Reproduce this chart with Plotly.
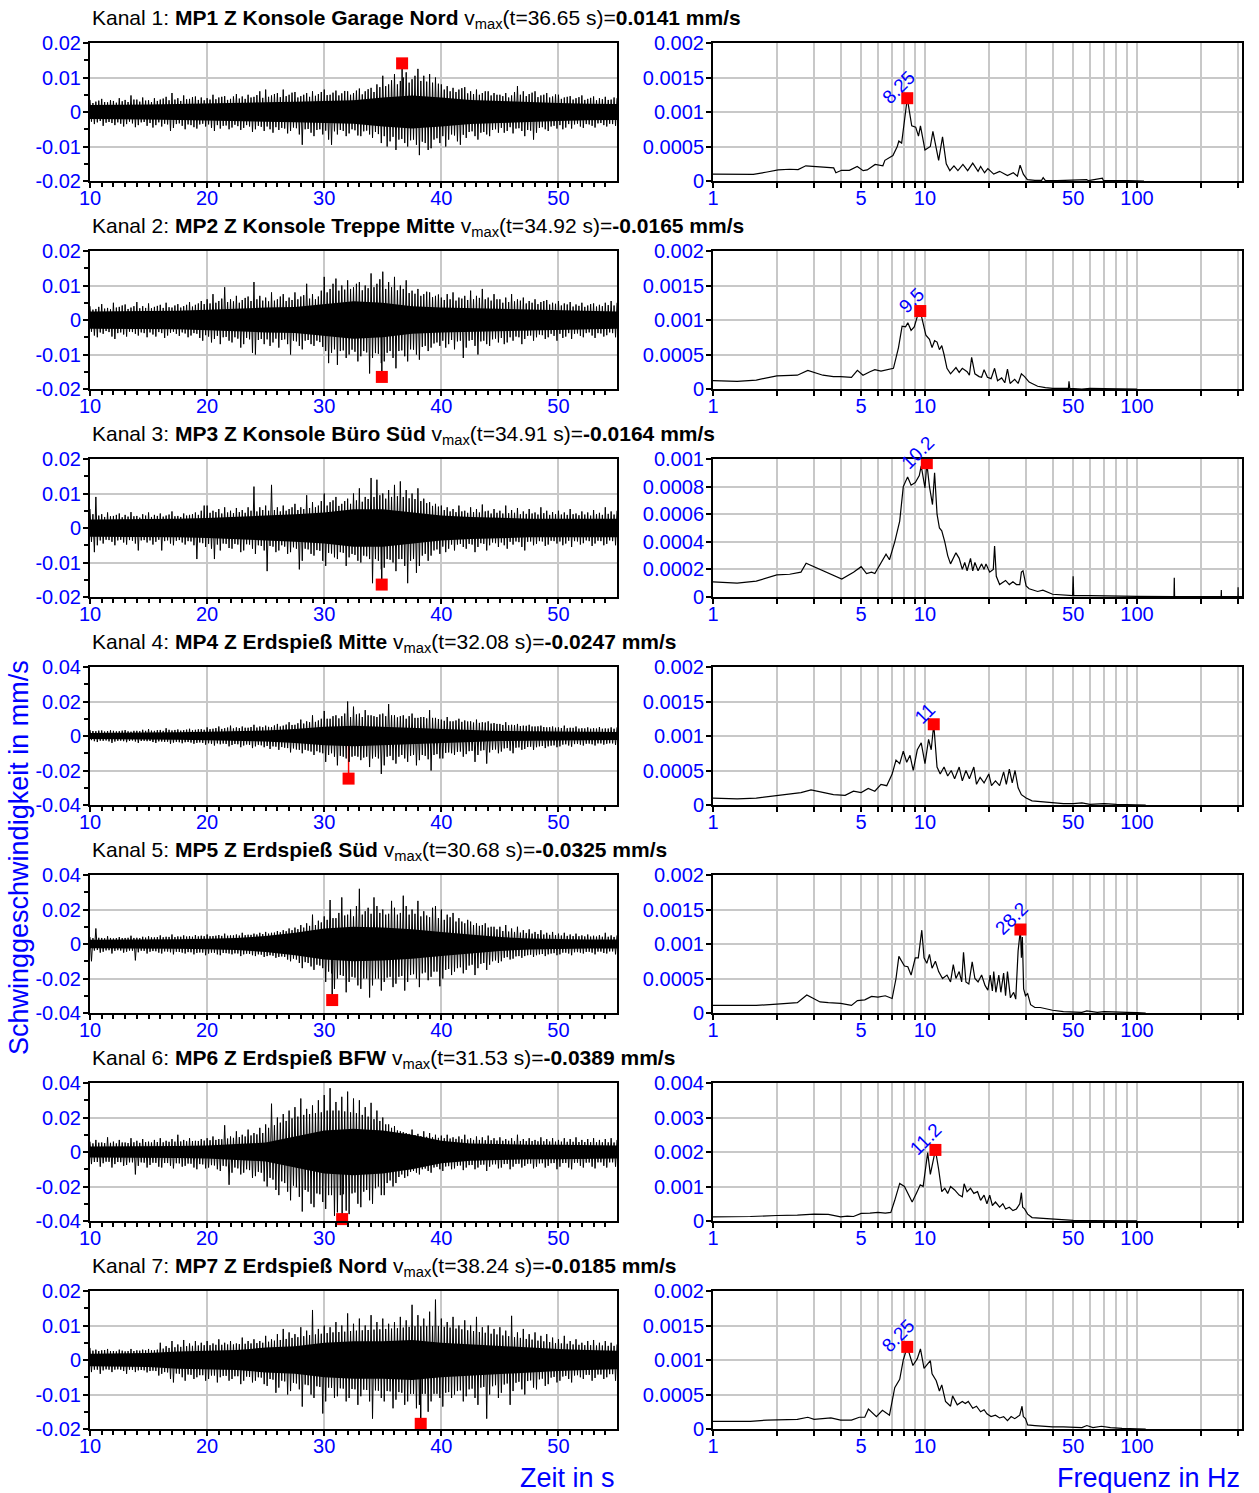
import numpy as np
import plotly.graph_objects as go

# ---------------------------------------------------------------------------
# Channel metadata
# ---------------------------------------------------------------------------
channel_names = [
    "MP1 Z Konsole Garage Nord",
    "MP2 Z Konsole Treppe Mitte",
    "MP3 Z Konsole Büro Süd",
    "MP4 Z Erdspieß Mitte",
    "MP5 Z Erdspieß Süd",
    "MP6 Z Erdspieß BFW",
    "MP7 Z Erdspieß Nord",
]
t_vmax = [36.65, 34.92, 34.91, 32.08, 30.68, 31.53, 38.24]               # s
v_vmax = [0.0141, -0.0165, -0.0164, -0.0247, -0.0325, -0.0389, -0.0185]  # mm/s
time_ylim = [0.02, 0.02, 0.02, 0.04, 0.04, 0.04, 0.02]                   # mm/s
spec_ylim = [0.002, 0.002, 0.001, 0.002, 0.002, 0.004, 0.002]            # mm/s
peak_freq = [8.25, 9.5, 10.2, 11, 28.2, 11.2, 8.25]                      # Hz
peak_amp = [1.20, 1.13, 0.97, 1.17, 1.21, 2.06, 1.19]                    # µm/s

# ---------------------------------------------------------------------------
# Velocity records (µm/s).
#   hi*  : positive peaks, every 0.25 s starting at 10.0 s
#   lo*  : negative peaks, every 0.25 s starting at 10.125 s
#   core*: half-width of the dense centre band, every 2.5 s from 10 s
# ---------------------------------------------------------------------------
hi1 = [3.5, 2.6, 3.0, 3.3, 3.8, 2.9, 2.8, 3.4, 3.2, 2.7, 4.0, 3.1, 3.5, 2.9, 4.8, 3.6, 3.6, 3.0, 4.2, 3.3,
       3.4, 2.9, 4.0, 3.2, 3.6, 3.9, 4.4, 3.4, 5.5, 3.6, 4.0, 3.2, 4.8, 3.7, 3.8, 4.3, 4.5, 3.5, 4.2, 3.4,
       4.0, 3.6, 5.0, 3.7, 4.2, 4.4, 4.6, 3.5, 3.8, 4.5, 5.2, 3.9, 4.5, 3.8, 5.0, 4.2, 4.4, 4.9, 6.0, 4.1,
       6.5, 4.4, 4.8, 5.2, 5.5, 4.3, 6.5, 4.6, 5.0, 5.6, 5.8, 4.2, 4.6, 5.0, 5.5, 4.4, 6.0, 4.7, 5.2, 5.8,
       6.5, 4.9, 5.0, 5.6, 6.2, 4.8, 5.4, 6.1, 6.0, 5.0, 5.5, 6.2, 6.8, 5.1, 6.0, 6.6, 7.0, 5.8, 8.0, 7.2,
       10.5, 7.5, 8.0, 9.2, 11.0, 8.0, 9.0, 10.0, 11.5, 8.5, 9.5, 10.5, 12.5, 9.0, 10.5, 8.8, 11.0, 8.5, 10.0, 8.2,
       8.0, 6.5, 7.5, 6.0, 7.0, 5.8, 6.5, 6.9, 7.2, 5.4, 6.0, 5.2, 6.5, 5.0, 5.5, 6.0, 6.0, 4.8, 5.5, 5.0,
       5.0, 4.6, 5.5, 4.2, 4.8, 5.8, 7.5, 5.0, 6.0, 4.6, 5.2, 5.6, 6.0, 4.3, 4.8, 5.0, 5.5, 4.2, 4.5, 5.1,
       5.0, 3.8, 4.2, 4.4, 4.6, 3.6, 4.0, 4.3, 4.8, 3.5, 3.8, 4.1, 4.5, 3.4, 4.0, 3.7, 4.4, 3.5, 3.6, 4.2,
       4.0]
lo1 = [-2.8, -3.5, -3.0, -2.6, -4.0, -3.1, -2.9, -3.2, -3.8, -3.0, -3.4, -4.2, -3.5, -2.8, -3.3, -4.4, -3.8, -3.0, -2.9, -4.0,
       -3.2, -4.5, -3.8, -3.0, -4.2, -3.4, -3.6, -5.5, -4.6, -3.5, -3.3, -4.0, -5.0, -3.6, -3.8, -4.4, -4.8, -3.6, -3.4, -4.2,
       -3.6, -4.6, -5.5, -3.8, -4.8, -4.0, -3.9, -5.0, -4.5, -3.7, -4.1, -5.2, -4.6, -3.8, -4.2, -5.8, -5.0, -4.0, -4.3, -5.5,
       -4.2, -5.0, -6.0, -4.4, -5.2, -4.6, -4.8, -6.2, -5.5, -4.5, -4.7, -6.5, -9.5, -5.0, -4.9, -6.0, -7.0, -5.2, -5.0, -6.5,
       -5.4, -8.0, -9.5, -5.6, -6.5, -5.2, -5.5, -7.0, -6.2, -5.0, -5.3, -6.8, -7.0, -5.6, -5.4, -6.5, -7.5, -5.8, -6.4, -9.0,
       -7.0, -10.0, -8.5, -7.2, -11.0, -8.0, -7.8, -9.0, -10.0, -8.2, -8.0, -9.5, -12.5, -8.6, -9.0, -11.0, -10.5, -8.0, -7.6, -9.0,
       -7.0, -10.0, -8.0, -6.5, -6.8, -8.5, -9.5, -6.6, -7.5, -5.8, -5.6, -7.0, -8.0, -6.0, -5.8, -6.5, -7.0, -5.2, -5.0, -6.0,
       -4.6, -6.0, -5.5, -4.4, -6.2, -4.8, -4.7, -5.5, -7.0, -5.2, -5.4, -8.0, -6.0, -4.6, -4.4, -5.0, -5.5, -4.2, -4.0, -4.8,
       -3.8, -5.0, -4.5, -3.5, -4.8, -3.6, -3.4, -4.2, -4.6, -3.5, -3.6, -4.0, -4.5, -3.3, -3.2, -3.8, -4.2, -3.4, -3.5, -4.0]
core1 = [2.0, 2.0, 2.2, 2.3, 2.4, 2.6, 2.8, 3.0, 3.2, 3.4, 4.2, 4.8, 4.2, 3.5, 3.2, 2.8, 2.6, 2.4, 2.3]

hi2 = [4.0, 3.0, 3.2, 3.8, 4.6, 3.3, 3.5, 3.1, 5.0, 3.6, 3.8, 4.2, 4.5, 3.2, 3.6, 4.0, 5.2, 3.4, 4.0, 3.5,
       4.8, 3.4, 3.8, 4.1, 4.4, 3.5, 5.0, 3.7, 3.6, 4.2, 4.6, 3.6, 4.0, 4.4, 5.2, 3.9, 4.4, 4.8, 5.5, 4.6,
       6.0, 4.8, 7.5, 5.0, 5.5, 6.2, 9.5, 5.2, 6.0, 5.4, 7.0, 5.0, 5.8, 6.4, 6.8, 5.5, 11.0, 6.0, 7.0, 5.6,
       6.5, 5.4, 8.0, 5.6, 6.0, 6.8, 7.5, 5.5, 6.5, 5.8, 8.0, 6.0, 6.8, 7.2, 10.5, 6.2, 7.5, 6.0, 6.8, 8.5,
       12.5, 8.0, 9.0, 10.5, 12.0, 8.5, 10.0, 8.8, 11.5, 9.0, 9.5, 10.5, 11.0, 8.6, 10.0, 9.2, 13.5, 9.5, 10.5, 11.8,
       14.0, 9.0, 11.0, 9.5, 12.5, 8.6, 10.0, 9.0, 11.5, 7.8, 8.5, 7.6, 9.0, 7.0, 7.5, 8.2, 8.0, 6.6, 7.0, 7.4,
       6.5, 5.8, 7.5, 6.0, 8.0, 5.6, 6.5, 6.2, 7.0, 5.8, 8.5, 6.0, 7.0, 6.4, 9.0, 6.0, 6.5, 5.6, 7.5, 6.0,
       6.0, 5.0, 6.5, 5.2, 7.5, 5.4, 6.0, 5.6, 6.5, 4.8, 5.5, 5.0, 6.0, 4.6, 5.2, 5.5, 5.8, 4.5, 5.0, 4.7,
       5.5, 4.2, 4.8, 4.5, 5.2, 3.9, 4.5, 4.1, 5.0, 3.8, 4.2, 4.6, 4.8, 3.9, 4.4, 4.0, 5.0, 4.3, 5.5, 4.2,
       5.0]
lo2 = [-3.4, -4.5, -5.0, -3.6, -4.0, -3.2, -3.5, -4.8, -5.5, -3.8, -3.6, -4.2, -4.8, -3.4, -3.5, -4.0, -4.5, -3.6, -3.8, -5.0,
       -3.6, -4.2, -4.8, -3.5, -3.8, -5.2, -4.5, -3.7, -3.4, -4.0, -4.6, -3.6, -3.9, -5.0, -4.5, -3.8, -4.0, -5.2, -6.0, -4.4,
       -4.8, -6.5, -5.5, -4.6, -7.0, -5.0, -4.9, -6.0, -6.5, -5.0, -5.4, -8.0, -7.0, -5.2, -5.6, -9.5, -10.0, -5.8, -5.5, -7.0,
       -5.6, -7.5, -6.5, -5.4, -8.0, -5.8, -5.6, -7.0, -10.0, -6.0, -6.2, -7.5, -8.5, -6.0, -5.8, -7.0, -7.5, -6.0, -6.4, -7.8,
       -9.0, -12.5, -9.5, -8.5, -13.0, -9.0, -8.8, -11.0, -10.0, -8.6, -9.2, -12.0, -10.5, -9.0, -9.4, -15.5, -11.0, -9.6, -9.8, -12.5,
       -12.0, -9.5, -9.0, -11.0, -14.0, -9.0, -8.8, -10.5, -12.0, -8.5, -8.6, -10.0, -11.5, -7.8, -7.5, -9.0, -8.0, -6.8, -6.5, -7.5,
       -6.0, -8.0, -7.0, -5.8, -8.5, -6.2, -6.0, -11.0, -8.0, -6.0, -5.8, -7.5, -10.0, -6.2, -6.0, -7.0, -7.5, -5.6, -5.4, -6.5,
       -5.2, -7.0, -6.5, -5.0, -6.0, -4.8, -5.0, -7.0, -5.5, -4.6, -4.5, -6.0, -5.0, -4.2, -4.4, -5.5, -5.0, -4.0, -4.6, -6.0,
       -4.0, -5.2, -4.8, -3.8, -5.5, -4.0, -3.9, -4.6, -5.0, -3.8, -3.6, -4.5, -5.2, -3.8, -3.9, -4.8, -4.4, -3.6, -3.8, -5.0]
core2 = [2.5, 2.5, 2.7, 2.7, 3.0, 3.4, 3.6, 3.8, 4.5, 5.4, 5.0, 4.0, 3.6, 3.4, 3.2, 2.9, 2.7, 2.5, 2.5]

hi3 = [5.5, 4.0, 9.0, 3.6, 4.0, 3.2, 4.5, 3.4, 3.5, 3.8, 4.2, 3.1, 3.8, 3.3, 4.6, 3.4, 3.5, 3.0, 4.0, 3.6,
       4.5, 3.2, 3.8, 3.5, 4.2, 3.3, 3.6, 3.9, 4.8, 3.4, 3.5, 3.2, 4.2, 3.6, 3.8, 4.0, 4.5, 3.8, 5.0, 6.5,
       6.5, 4.4, 5.0, 4.6, 5.5, 4.2, 6.0, 4.5, 5.0, 4.3, 5.8, 4.6, 5.2, 4.4, 6.0, 5.0, 12.0, 4.8, 6.0, 5.2,
       6.5, 5.0, 12.5, 5.2, 6.0, 4.8, 6.5, 5.0, 5.5, 6.0, 7.0, 5.2, 6.0, 5.5, 9.5, 5.8, 7.5, 6.0, 6.5, 7.8,
       10.0, 6.5, 7.5, 8.0, 9.0, 6.4, 7.0, 7.8, 8.5, 7.0, 10.0, 8.0, 11.5, 7.6, 9.0, 8.4, 14.5, 9.0, 14.0, 9.5,
       10.0, 8.5, 11.0, 9.0, 12.5, 9.2, 13.5, 9.0, 11.0, 8.6, 10.0, 8.4, 11.5, 7.8, 8.5, 7.2, 7.5, 6.4, 7.0, 6.2,
       6.5, 5.2, 6.0, 4.8, 5.5, 4.6, 6.5, 4.8, 5.0, 4.4, 6.0, 4.6, 5.5, 4.5, 6.8, 4.8, 5.0, 4.2, 5.5, 4.4,
       5.0, 4.2, 6.5, 4.3, 5.2, 4.4, 5.8, 4.0, 4.8, 4.1, 5.5, 4.2, 4.5, 3.9, 6.0, 4.3, 5.0, 3.8, 4.6, 4.0,
       5.0, 3.9, 4.5, 3.8, 5.5, 4.0, 4.2, 3.7, 4.8, 3.9, 4.5, 3.6, 5.2, 4.0, 4.4, 3.8, 6.0, 4.1, 4.8, 3.9,
       5.0]
lo3 = [-4.0, -7.0, -5.0, -3.6, -4.5, -3.4, -3.5, -4.0, -5.0, -3.6, -3.4, -4.2, -4.8, -3.5, -3.7, -4.5, -6.5, -3.6, -3.5, -4.2,
       -3.6, -4.8, -4.0, -3.4, -6.5, -3.8, -3.6, -4.5, -5.0, -3.7, -3.5, -4.2, -4.8, -3.8, -3.9, -5.0, -9.0, -4.2, -4.4, -5.5,
       -4.6, -6.0, -9.0, -4.8, -6.5, -4.5, -4.6, -5.8, -6.0, -4.6, -4.8, -7.0, -6.5, -4.7, -4.8, -6.0, -7.5, -5.0, -5.2, -6.5,
       -12.5, -5.2, -5.4, -7.0, -6.5, -5.0, -5.4, -7.5, -7.0, -5.6, -6.0, -12.0, -9.5, -6.0, -6.2, -7.5, -8.0, -6.4, -6.6, -9.5,
       -11.0, -7.2, -7.4, -8.5, -9.0, -7.0, -7.2, -11.0, -8.5, -7.5, -7.8, -9.5, -10.0, -8.0, -8.2, -9.0, -16.0, -9.0, -9.5, -12.0,
       -11.5, -9.0, -9.2, -10.0, -12.5, -9.0, -9.0, -11.0, -16.0, -9.5, -9.0, -13.0, -11.0, -8.0, -7.5, -9.5, -8.0, -6.5, -6.2, -7.5,
       -5.4, -7.0, -6.0, -4.8, -6.5, -4.8, -4.6, -5.5, -6.0, -4.6, -4.8, -7.0, -5.5, -4.4, -4.6, -6.5, -5.0, -4.2, -4.4, -5.5,
       -4.2, -5.0, -6.0, -4.0, -4.8, -3.9, -4.1, -5.5, -6.5, -4.0, -3.9, -5.0, -4.6, -3.8, -3.9, -5.2, -4.8, -3.7, -3.8, -4.5,
       -3.9, -5.0, -4.5, -3.7, -5.5, -3.8, -3.9, -4.8, -4.4, -3.6, -3.8, -5.2, -4.5, -3.7, -3.8, -5.0, -4.6, -3.6, -3.8, -5.0]
core3 = [2.5, 2.5, 2.5, 2.7, 2.9, 3.2, 3.6, 4.0, 4.5, 5.4, 5.4, 4.5, 3.6, 3.2, 2.9, 2.7, 2.7, 2.7, 2.7]

hi4 = [3.5, 2.9, 2.8, 3.1, 3.2, 2.6, 2.9, 3.3, 3.0, 2.7, 2.8, 3.1, 3.4, 2.7, 2.5, 3.0, 3.0, 2.8, 3.6, 3.0,
       4.0, 3.1, 3.0, 3.4, 3.5, 3.0, 4.5, 3.6, 3.2, 3.5, 3.8, 3.1, 3.4, 3.7, 4.2, 3.3, 3.6, 3.9, 4.0, 3.6,
       5.0, 4.0, 4.2, 4.6, 5.5, 4.1, 4.5, 4.9, 6.0, 4.4, 5.0, 4.6, 5.5, 4.8, 4.8, 5.2, 6.5, 4.9, 5.5, 5.1,
       6.0, 5.3, 5.2, 6.1, 7.0, 5.5, 6.0, 6.6, 8.0, 6.4, 6.5, 7.4, 9.5, 7.2, 8.5, 8.0, 12.0, 8.2, 9.0, 10.0,
       14.5, 10.0, 10.0, 11.5, 12.0, 10.2, 11.5, 13.0, 20.0, 11.0, 17.0, 12.5, 13.0, 11.0, 15.0, 12.0, 12.0, 11.5, 11.0, 12.5,
       13.0, 11.5, 18.5, 12.0, 12.0, 10.8, 11.5, 12.0, 10.0, 11.5, 13.0, 10.5, 10.5, 11.0, 11.0, 10.2, 15.0, 10.5, 10.5, 9.8,
       9.5, 8.8, 11.0, 8.5, 8.5, 9.0, 10.0, 8.2, 9.0, 8.4, 8.5, 7.8, 9.5, 7.6, 8.0, 7.8, 8.5, 7.2, 7.5, 7.0,
       7.0, 6.4, 8.0, 6.2, 6.5, 6.3, 7.0, 5.8, 6.0, 5.9, 6.5, 5.5, 5.5, 5.6, 6.0, 5.2, 5.0, 5.1, 5.5, 4.8,
       5.0, 4.6, 6.0, 4.5, 4.8, 4.7, 5.5, 4.3, 4.5, 4.4, 5.0, 4.2, 4.5, 4.3, 5.2, 4.2, 4.4, 4.3, 5.0, 4.2,
       5.0]
lo4 = [-2.4, -3.0, -3.5, -2.7, -2.8, -2.6, -3.1, -4.0, -3.2, -2.8, -2.7, -3.0, -3.6, -2.9, -2.6, -3.2, -4.0, -2.9, -2.8, -3.0,
       -2.9, -3.5, -4.0, -3.1, -3.2, -3.4, -3.3, -4.5, -3.8, -3.4, -3.6, -4.2, -3.6, -3.5, -3.8, -4.5, -4.0, -3.7, -4.0, -5.0,
       -4.2, -4.5, -5.5, -4.3, -4.8, -4.4, -4.6, -6.0, -5.2, -4.6, -4.8, -6.5, -5.5, -4.9, -5.2, -7.0, -6.0, -5.1, -5.4, -6.5,
       -5.8, -7.5, -6.0, -6.2, -8.0, -6.4, -6.8, -7.0, -9.5, -7.2, -7.8, -8.0, -10.0, -8.0, -8.5, -9.0, -11.0, -8.8, -9.5, -10.0,
       -15.0, -11.0, -10.0, -12.0, -17.0, -11.5, -12.0, -13.0, -15.0, -12.0, -11.5, -12.0, -14.0, -12.5, -12.0, -18.0, -13.0, -12.0, -13.0, -22.0,
       -17.0, -12.0, -11.5, -14.0, -16.0, -12.0, -11.0, -13.0, -15.0, -11.5, -11.0, -17.0, -14.0, -11.0, -11.5, -13.5, -20.0, -11.0, -10.5, -13.0,
       -13.0, -9.8, -9.5, -10.0, -11.0, -9.2, -9.0, -12.0, -10.5, -8.8, -8.6, -15.0, -11.0, -8.5, -8.2, -16.0, -9.5, -8.0, -7.8, -10.0,
       -9.0, -7.2, -7.0, -8.5, -10.0, -6.8, -6.6, -8.0, -7.5, -6.4, -6.2, -8.0, -6.5, -6.0, -5.8, -7.0, -6.0, -5.6, -5.4, -6.5,
       -6.0, -5.0, -4.8, -5.5, -6.2, -4.7, -4.6, -5.0, -5.5, -4.5, -4.4, -4.8, -5.5, -4.3, -4.3, -5.0, -4.5, -4.2, -4.3, -5.2]
core4 = [1.8, 1.8, 2.0, 2.2, 2.4, 2.7, 3.2, 4.0, 5.4, 6.0, 5.4, 5.0, 4.0, 3.4, 2.9, 2.7, 2.5, 2.4, 2.3]

hi5 = [4.0, 3.4, 9.0, 3.6, 3.5, 3.3, 4.5, 3.5, 3.2, 3.4, 4.0, 3.4, 3.5, 3.6, 4.8, 3.5, 3.6, 3.4, 4.2, 3.7,
       4.5, 3.8, 3.8, 4.0, 5.0, 3.9, 4.2, 4.1, 5.5, 4.0, 4.4, 4.2, 5.0, 4.3, 4.6, 4.2, 5.2, 4.4, 4.8, 4.5,
       5.5, 4.5, 4.6, 4.8, 5.2, 4.7, 6.0, 4.8, 5.0, 5.0, 5.5, 4.9, 6.5, 5.1, 5.4, 5.3, 6.0, 5.5, 6.5, 5.8,
       7.0, 6.0, 6.5, 6.6, 7.5, 6.8, 8.0, 7.4, 9.0, 8.0, 9.5, 8.6, 11.0, 9.5, 12.0, 10.5, 17.0, 11.0, 13.5, 12.5,
       16.0, 14.0, 25.5, 15.0, 15.0, 18.0, 27.0, 16.5, 17.0, 20.0, 16.0, 22.0, 32.0, 17.0, 19.0, 21.0, 17.5, 27.0, 22.0, 18.0,
       20.0, 17.0, 17.5, 25.0, 21.0, 17.0, 18.0, 28.0, 22.0, 17.0, 20.0, 17.5, 25.0, 16.0, 19.0, 16.5, 15.5, 21.0, 22.0, 15.0,
       20.0, 14.0, 17.0, 15.5, 18.0, 13.0, 15.0, 13.0, 12.0, 14.0, 13.0, 11.0, 12.0, 10.5, 11.0, 12.0, 9.5, 10.0, 10.0, 8.5,
       10.0, 7.5, 11.0, 7.2, 9.0, 7.0, 10.0, 6.6, 8.0, 6.4, 8.5, 6.0, 7.0, 5.8, 8.0, 5.5, 6.5, 5.3, 7.0, 5.1,
       6.0, 4.9, 6.5, 4.7, 5.5, 4.6, 6.0, 4.5, 5.0, 4.4, 5.5, 4.3, 4.8, 4.3, 5.2, 4.2, 6.5, 4.2, 5.0, 4.1,
       5.0]
lo5 = [-10.0, -3.8, -3.5, -5.0, -4.5, -3.7, -3.6, -5.5, -4.0, -3.6, -3.8, -5.0, -4.5, -3.8, -3.9, -9.5, -4.8, -3.9, -4.0, -5.5,
       -4.5, -4.1, -4.2, -5.0, -5.5, -4.3, -4.4, -4.8, -6.0, -4.5, -4.6, -5.0, -5.5, -4.7, -4.8, -6.0, -5.2, -4.9, -5.0, -6.5,
       -5.5, -5.0, -5.1, -6.0, -6.5, -5.2, -5.3, -5.5, -6.0, -5.4, -5.5, -7.0, -6.0, -5.6, -5.8, -6.5, -7.0, -6.0, -6.2, -7.5,
       -7.0, -6.5, -6.8, -8.0, -7.5, -7.2, -7.5, -9.0, -10.0, -8.5, -9.0, -11.0, -14.0, -10.5, -11.0, -13.0, -15.0, -12.0, -12.5, -14.0,
       -22.0, -16.0, -17.0, -26.0, -20.0, -18.0, -18.5, -28.0, -22.0, -19.0, -19.5, -24.0, -26.0, -20.0, -20.0, -31.0, -24.0, -20.0, -20.0, -27.0,
       -22.0, -19.5, -19.0, -25.0, -23.0, -19.0, -18.5, -27.0, -22.0, -18.0, -17.5, -20.0, -25.0, -17.0, -16.5, -21.0, -19.0, -16.0, -16.0, -24.5,
       -20.0, -15.0, -14.5, -18.0, -16.0, -14.0, -13.5, -17.0, -15.0, -12.5, -12.0, -18.0, -14.0, -11.5, -11.0, -15.0, -12.0, -10.0, -9.5, -11.0,
       -10.0, -8.0, -7.6, -9.0, -8.5, -7.2, -7.0, -8.0, -7.0, -6.5, -6.2, -7.5, -6.5, -6.0, -5.8, -7.0, -6.0, -5.5, -5.3, -6.5,
       -6.0, -5.0, -5.0, -5.5, -6.5, -4.8, -4.7, -5.0, -5.5, -4.6, -4.5, -5.0, -6.0, -4.4, -4.4, -5.2, -5.5, -4.3, -4.3, -6.0]
core5 = [2.4, 2.4, 2.6, 2.8, 3.1, 3.5, 4.6, 6.5, 9.0, 10.0, 9.5, 8.5, 7.0, 5.4, 4.0, 3.2, 2.8, 2.6, 2.6]

hi6 = [6.0, 5.0, 7.0, 5.4, 5.5, 5.2, 8.5, 5.3, 6.0, 5.0, 7.0, 5.5, 5.5, 5.2, 8.0, 5.6, 6.5, 5.3, 7.5, 5.7,
       6.0, 5.5, 7.0, 5.8, 8.0, 5.6, 6.5, 5.9, 7.5, 6.0, 10.0, 6.1, 7.0, 6.2, 8.0, 6.3, 6.5, 6.4, 7.5, 6.6,
       8.0, 6.8, 9.0, 7.0, 7.5, 7.4, 15.5, 7.8, 9.0, 8.2, 12.0, 8.6, 10.0, 9.0, 13.0, 9.6, 11.0, 10.2, 14.0, 11.0,
       16.0, 14.0, 28.0, 15.5, 20.0, 17.0, 22.0, 18.0, 24.0, 19.5, 26.0, 20.5, 31.0, 21.5, 25.0, 22.0, 27.0, 22.5, 30.0, 23.0,
       33.0, 24.0, 37.0, 24.0, 29.0, 24.0, 32.0, 23.5, 35.0, 23.0, 31.0, 22.5, 30.0, 21.5, 26.0, 20.5, 28.5, 19.0, 24.0, 18.0,
       20.0, 16.0, 16.0, 14.0, 15.0, 12.5, 12.0, 11.5, 11.0, 10.5, 13.0, 9.8, 10.5, 9.2, 12.0, 8.8, 11.0, 8.5, 10.0, 8.2,
       9.5, 8.0, 10.0, 7.8, 8.5, 7.6, 9.0, 7.4, 10.0, 7.2, 8.0, 7.0, 9.0, 7.0, 8.5, 6.8, 9.5, 6.8, 8.0, 6.6,
       8.5, 6.5, 7.5, 6.5, 8.0, 6.4, 10.0, 6.4, 7.5, 6.3, 8.0, 6.3, 7.0, 6.2, 8.5, 6.2, 7.5, 6.1, 8.0, 6.0,
       7.0, 6.0, 8.0, 5.9, 7.5, 5.9, 8.5, 5.8, 7.0, 5.8, 7.5, 5.7, 8.0, 5.7, 7.0, 5.6, 7.5, 5.6, 8.0, 5.5,
       7.0]
lo6 = [-7.0, -5.8, -5.8, -8.5, -6.5, -5.6, -5.7, -9.0, -7.0, -5.8, -5.9, -8.0, -7.5, -6.0, -6.0, -13.0, -8.0, -6.0, -6.2, -9.0,
       -7.5, -6.2, -6.3, -8.5, -9.0, -6.4, -6.4, -8.0, -9.5, -6.5, -6.6, -8.5, -8.0, -6.7, -6.8, -9.0, -10.0, -7.0, -7.2, -9.5,
       -9.0, -7.6, -7.8, -10.0, -11.0, -8.0, -8.3, -19.0, -12.0, -9.0, -9.5, -13.0, -12.0, -10.0, -10.5, -15.0, -14.0, -11.5, -12.0, -17.0,
       -20.0, -15.0, -16.0, -22.0, -25.0, -17.0, -18.0, -23.0, -28.0, -19.5, -20.5, -26.0, -34.5, -22.0, -23.0, -30.0, -32.0, -24.0, -24.5, -29.0,
       -33.0, -25.0, -25.0, -37.0, -35.0, -25.0, -24.5, -34.0, -36.0, -24.0, -23.5, -30.0, -32.0, -23.0, -22.0, -28.0, -30.0, -21.0, -20.0, -25.0,
       -25.0, -18.0, -16.5, -20.0, -18.0, -14.5, -13.0, -15.0, -14.0, -11.5, -11.0, -12.0, -13.0, -10.0, -9.6, -11.0, -12.0, -9.0, -8.6, -10.0,
       -11.0, -8.4, -8.2, -10.0, -9.5, -8.0, -7.8, -10.5, -9.0, -7.6, -7.5, -10.0, -9.0, -7.4, -7.3, -11.0, -8.5, -7.2, -7.1, -9.5,
       -9.0, -7.0, -6.9, -10.0, -8.5, -6.9, -6.8, -9.0, -8.0, -6.8, -6.7, -9.5, -8.5, -6.6, -6.5, -9.0, -8.0, -6.5, -6.4, -10.0,
       -8.5, -6.4, -6.3, -9.0, -10.0, -6.3, -6.2, -8.0, -9.0, -6.2, -6.1, -8.5, -9.5, -6.0, -6.0, -8.0, -9.0, -6.0, -6.0, -8.5]
core6 = [3.2, 3.2, 3.2, 3.5, 3.7, 4.5, 5.5, 9.0, 12.5, 13.5, 12.5, 10.0, 6.5, 5.0, 4.5, 4.2, 4.2, 4.0, 3.8]

hi7 = [3.5, 2.7, 3.0, 2.6, 2.8, 2.9, 3.2, 2.6, 2.6, 2.5, 3.0, 2.7, 2.5, 2.6, 3.2, 2.6, 2.8, 2.7, 3.0, 2.8,
       3.2, 2.8, 2.8, 3.0, 5.0, 3.3, 4.0, 3.5, 5.5, 3.7, 4.5, 3.8, 5.8, 4.0, 4.8, 4.1, 5.5, 4.2, 5.0, 4.3,
       5.5, 4.3, 4.8, 4.4, 6.0, 4.4, 5.0, 4.5, 5.5, 4.5, 4.8, 4.6, 6.5, 4.7, 5.5, 4.8, 6.0, 4.9, 5.5, 5.0,
       7.0, 5.3, 6.0, 5.6, 7.5, 5.8, 9.0, 6.1, 8.0, 6.4, 7.5, 6.6, 9.5, 6.9, 8.5, 7.2, 14.5, 7.4, 9.0, 7.6,
       10.0, 7.8, 9.5, 8.0, 11.0, 8.1, 10.0, 8.2, 13.5, 8.4, 10.5, 8.5, 12.0, 8.6, 10.0, 8.7, 13.0, 8.8, 11.0, 8.9,
       12.0, 9.0, 10.5, 9.1, 11.0, 9.2, 12.5, 9.4, 11.5, 9.6, 16.0, 9.8, 13.0, 9.8, 12.0, 9.8, 14.0, 9.8, 17.5, 9.8,
       12.0, 9.6, 11.0, 9.4, 12.5, 9.1, 10.0, 8.9, 11.5, 8.6, 10.0, 8.4, 12.5, 8.1, 9.5, 7.9, 10.0, 7.6, 9.0, 7.4,
       9.5, 7.1, 8.5, 6.9, 12.8, 6.6, 8.0, 6.4, 9.0, 6.1, 7.5, 5.9, 8.0, 5.6, 7.0, 5.4, 7.5, 5.2, 6.5, 4.9,
       6.0, 4.8, 7.0, 4.7, 5.5, 4.5, 6.0, 4.4, 5.0, 4.3, 5.5, 4.3, 5.8, 4.2, 5.0, 4.2, 5.5, 4.1, 5.0, 4.1,
       4.5]
lo7 = [-3.5, -2.8, -2.8, -4.0, -3.0, -2.7, -2.8, -3.5, -2.8, -2.7, -2.8, -3.2, -4.0, -2.8, -2.9, -3.5, -3.0, -2.9, -3.0, -3.6,
       -3.2, -3.1, -3.2, -4.5, -4.0, -3.5, -3.6, -5.5, -6.5, -3.9, -4.0, -5.0, -6.0, -4.2, -4.3, -5.5, -5.0, -4.4, -4.4, -6.0,
       -5.5, -4.5, -4.5, -6.5, -5.0, -4.6, -4.6, -6.0, -5.5, -4.7, -4.7, -7.0, -6.0, -4.8, -4.9, -6.5, -6.0, -5.0, -5.1, -7.0,
       -7.5, -5.5, -5.7, -9.5, -8.0, -6.0, -6.2, -10.0, -9.0, -6.6, -6.8, -8.5, -13.5, -7.1, -7.3, -10.0, -11.0, -7.6, -7.8, -15.5,
       -12.0, -8.0, -8.1, -11.0, -10.5, -8.2, -8.3, -12.0, -11.0, -8.4, -8.5, -13.0, -10.5, -8.6, -8.7, -12.0, -17.0, -8.8, -8.9, -11.0,
       -12.0, -9.0, -9.1, -14.0, -11.5, -9.3, -9.5, -13.0, -12.0, -9.8, -9.8, -14.0, -13.0, -9.8, -9.8, -15.0, -12.0, -9.8, -9.8, -11.0,
       -13.5, -9.5, -9.3, -11.0, -10.0, -9.0, -8.8, -12.0, -10.5, -8.5, -8.3, -11.0, -13.0, -8.0, -7.8, -17.0, -10.0, -7.6, -7.3, -11.0,
       -9.5, -7.1, -6.8, -13.0, -9.0, -6.6, -6.3, -8.5, -10.0, -6.1, -5.9, -8.0, -8.5, -5.6, -5.4, -7.5, -7.0, -5.1, -4.9, -6.5,
       -6.0, -4.8, -4.6, -5.5, -6.5, -4.5, -4.4, -5.0, -5.5, -4.3, -4.3, -6.0, -5.2, -4.2, -4.2, -5.5, -5.0, -4.1, -4.1, -6.0]
core7 = [1.8, 1.8, 2.0, 2.5, 2.7, 2.9, 3.6, 4.0, 5.0, 5.4, 5.4, 5.8, 5.0, 4.5, 4.0, 3.6, 3.2, 2.9, 2.7]

sig_hi = [hi1, hi2, hi3, hi4, hi5, hi6, hi7]
sig_lo = [lo1, lo2, lo3, lo4, lo5, lo6, lo7]
sig_core = [core1, core2, core3, core4, core5, core6, core7]

# ---------------------------------------------------------------------------
# Amplitude spectra: (frequency Hz, amplitude µm/s)
# ---------------------------------------------------------------------------
spec1 = [(1.0, 0.10), (1.25, 0.095), (1.55, 0.095), (1.8, 0.13), (2.03, 0.16), (2.3, 0.17),
         (2.52, 0.165), (2.74, 0.22), (3.0, 0.21), (3.4, 0.19), (3.71, 0.19), (3.8, 0.12),
         (4.04, 0.155), (4.4, 0.155), (4.79, 0.21), (5.11, 0.15), (5.34, 0.16), (5.82, 0.24),
         (6.33, 0.22), (6.47, 0.30), (7.06, 0.37), (7.4, 0.50), (7.53, 0.58), (7.76, 0.55),
         (8.03, 0.95), (8.25, 1.20), (8.66, 0.80), (9.04, 0.78), (9.32, 0.65), (9.52, 0.80),
         (10.0, 0.45), (10.6, 0.50), (10.9, 0.72), (11.6, 0.30), (12.1, 0.64), (12.6, 0.25),
         (13.1, 0.15), (13.7, 0.22), (14.3, 0.15), (15.1, 0.24), (15.9, 0.15), (16.8, 0.26),
         (17.8, 0.14), (18.3, 0.21), (19.1, 0.12), (19.8, 0.18), (21.1, 0.10), (22.5, 0.14),
         (24.5, 0.08), (26.1, 0.12), (27.3, 0.07), (28.1, 0.23), (29.1, 0.10), (30.4, 0.02),
         (33.0, 0.01), (35.5, 0.01), (36.1, 0.05), (37.0, 0.005), (42.0, 0.005), (50.9, 0.01),
         (57.9, 0.02), (59.0, 0.005), (68.7, 0.04), (69.5, 0.005), (78.6, 0.01), (90.0, 0.005),
         (100.0, 0.003), (108.0, 0.0)]
spec2 = [(1.0, 0.12), (1.3, 0.11), (1.6, 0.13), (2.0, 0.19), (2.5, 0.20), (2.8, 0.27),
         (3.3, 0.20), (3.7, 0.18), (4.0, 0.18), (4.5, 0.17), (4.8, 0.27), (5.1, 0.20),
         (5.5, 0.25), (5.8, 0.28), (6.2, 0.26), (6.8, 0.28), (7.1, 0.30), (7.5, 0.60),
         (7.8, 0.91), (8.1, 0.90), (8.3, 0.96), (8.6, 0.85), (8.9, 0.90), (9.2, 1.05),
         (9.5, 1.13), (9.8, 0.95), (10.1, 0.78), (10.5, 0.72), (10.8, 0.60), (11.1, 0.70),
         (11.4, 0.68), (11.7, 0.57), (12.0, 0.63), (12.3, 0.50), (12.7, 0.30), (13.2, 0.22),
         (14.0, 0.31), (14.5, 0.24), (15.0, 0.30), (15.8, 0.25), (16.2, 0.20), (16.6, 0.46),
         (17.2, 0.22), (18.0, 0.18), (18.5, 0.17), (19.0, 0.28), (19.7, 0.17), (20.5, 0.15),
         (21.3, 0.30), (22.0, 0.12), (23.0, 0.16), (23.8, 0.09), (24.5, 0.29), (25.2, 0.08),
         (26.5, 0.14), (27.5, 0.08), (28.5, 0.22), (29.5, 0.18), (31.0, 0.10), (32.0, 0.08),
         (34.0, 0.04), (37.0, 0.02), (40.0, 0.01), (45.0, 0.01), (47.5, 0.01), (47.8, 0.11),
         (48.2, 0.01), (55.0, 0.0), (60.0, 0.01), (70.0, 0.005), (100.0, 0.0)]
spec3 = [(1.0, 0.11), (1.3, 0.10), (1.6, 0.115), (2.0, 0.16), (2.3, 0.165), (2.6, 0.18),
         (2.75, 0.245), (3.2, 0.20), (3.6, 0.16), (4.05, 0.13), (4.6, 0.18), (5.0, 0.22),
         (5.3, 0.17), (5.6, 0.18), (5.8, 0.17), (6.1, 0.23), (6.55, 0.31), (6.8, 0.27),
         (7.2, 0.40), (7.6, 0.55), (7.9, 0.80), (8.28, 0.87), (8.6, 0.81), (9.0, 0.83),
         (9.4, 0.88), (9.6, 0.95), (10.0, 0.79), (10.2, 0.97), (10.5, 0.80), (10.85, 0.67),
         (11.1, 0.90), (11.4, 0.60), (11.7, 0.50), (12.0, 0.48), (12.4, 0.40), (12.8, 0.30),
         (13.2, 0.24), (14.0, 0.32), (14.5, 0.28), (15.0, 0.20), (15.4, 0.25), (15.8, 0.19),
         (16.4, 0.28), (16.8, 0.19), (17.2, 0.25), (17.8, 0.19), (18.5, 0.24), (19.0, 0.20),
         (19.4, 0.24), (20.2, 0.18), (21.0, 0.20), (21.3, 0.37), (21.7, 0.15), (22.5, 0.09),
         (24.0, 0.12), (25.0, 0.09), (26.0, 0.11), (27.0, 0.09), (28.0, 0.09), (28.5, 0.18),
         (29.0, 0.19), (30.0, 0.08), (31.0, 0.06), (34.0, 0.04), (36.0, 0.05), (40.0, 0.02),
         (45.0, 0.015), (49.7, 0.01), (50.0, 0.15), (50.3, 0.01), (60.0, 0.01), (70.0, 0.01),
         (100.0, 0.005), (149.5, 0.003), (150.0, 0.14), (150.5, 0.003), (200.0, 0.003),
         (249.5, 0.002), (250.0, 0.05), (250.5, 0.002), (299.5, 0.002), (300.0, 0.07),
         (300.5, 0.002), (313.0, 0.002)]
spec4 = [(1.0, 0.10), (1.3, 0.09), (1.6, 0.10), (2.0, 0.14), (2.3, 0.16), (2.6, 0.18),
         (2.9, 0.22), (3.3, 0.18), (3.7, 0.15), (4.2, 0.14), (4.6, 0.20), (5.0, 0.18),
         (5.4, 0.24), (5.8, 0.20), (6.2, 0.30), (6.6, 0.28), (7.0, 0.45), (7.3, 0.65),
         (7.6, 0.60), (7.9, 0.78), (8.2, 0.62), (8.5, 0.72), (8.8, 0.50), (9.2, 0.80),
         (9.6, 0.90), (10.0, 0.60), (10.4, 0.95), (10.7, 0.80), (11.0, 1.17), (11.4, 0.55),
         (11.8, 0.45), (12.3, 0.55), (12.8, 0.42), (13.3, 0.50), (13.8, 0.38), (14.5, 0.55),
         (15.0, 0.35), (15.6, 0.50), (16.2, 0.38), (17.0, 0.55), (17.5, 0.30), (18.2, 0.40),
         (19.0, 0.32), (20.0, 0.45), (20.6, 0.28), (21.5, 0.35), (22.5, 0.28), (23.5, 0.48),
         (24.2, 0.30), (25.0, 0.52), (25.8, 0.32), (26.6, 0.50), (27.5, 0.25), (28.5, 0.15),
         (30.0, 0.10), (32.0, 0.06), (35.0, 0.05), (40.0, 0.03), (45.0, 0.02), (50.0, 0.02),
         (55.0, 0.03), (60.0, 0.01), (70.0, 0.02), (80.0, 0.01), (100.0, 0.01), (110.0, 0.0)]
spec5 = [(1.0, 0.11), (1.3, 0.105), (1.6, 0.11), (2.0, 0.13), (2.5, 0.15), (2.77, 0.26),
         (3.2, 0.16), (3.5, 0.15), (4.0, 0.14), (4.5, 0.11), (4.8, 0.18), (5.2, 0.19),
         (5.6, 0.24), (6.0, 0.23), (6.5, 0.25), (7.0, 0.21), (7.3, 0.50), (7.53, 0.82),
         (8.0, 0.68), (8.3, 0.67), (8.6, 0.55), (9.0, 0.80), (9.3, 0.80), (9.66, 1.20),
         (9.9, 0.80), (10.2, 0.72), (10.5, 0.85), (10.8, 0.65), (11.2, 0.75), (11.6, 0.60),
         (12.1, 0.50), (12.7, 0.55), (13.2, 0.45), (13.6, 0.70), (14.0, 0.50), (14.5, 0.60),
         (14.9, 0.45), (15.2, 0.88), (15.6, 0.45), (16.1, 0.42), (16.7, 0.74), (17.2, 0.50),
         (17.8, 0.45), (18.5, 0.55), (19.2, 0.40), (19.8, 0.33), (20.3, 0.55), (20.8, 0.32),
         (21.1, 0.60), (21.6, 0.30), (22.3, 0.55), (22.8, 0.30), (23.5, 0.58), (24.0, 0.25),
         (24.5, 0.60), (25.3, 0.22), (26.2, 0.30), (26.8, 0.20), (27.5, 0.90), (28.2, 1.21),
         (28.5, 0.80), (28.8, 1.10), (29.2, 0.35), (29.8, 0.25), (30.5, 0.28), (31.5, 0.12),
         (33.0, 0.08), (35.0, 0.08), (38.0, 0.05), (40.0, 0.04), (45.0, 0.02), (50.0, 0.01),
         (55.0, 0.01), (58.0, 0.03), (65.0, 0.01), (70.0, 0.02), (80.0, 0.01), (90.0, 0.01),
         (100.0, 0.005), (110.0, 0.0)]
spec6 = [(1.0, 0.12), (1.5, 0.13), (2.0, 0.16), (2.5, 0.17), (3.0, 0.20), (3.5, 0.19),
         (4.0, 0.12), (4.3, 0.14), (4.6, 0.13), (5.0, 0.22), (5.5, 0.23), (6.0, 0.25),
         (6.5, 0.23), (6.9, 0.25), (7.2, 0.60), (7.6, 1.09), (8.0, 1.00), (8.4, 0.75),
         (8.7, 0.55), (9.1, 0.80), (9.5, 1.05), (9.8, 1.00), (10.3, 1.98), (10.6, 1.35),
         (11.0, 1.80), (11.2, 2.06), (11.6, 1.50), (12.0, 0.85), (12.4, 0.95), (12.8, 0.80),
         (13.2, 1.00), (13.8, 0.90), (14.5, 0.75), (15.0, 0.70), (15.3, 1.08), (15.8, 0.85),
         (16.4, 0.95), (17.0, 0.80), (17.7, 0.85), (18.3, 0.60), (19.0, 0.75), (19.6, 0.50),
         (20.2, 0.75), (20.8, 0.45), (21.5, 0.55), (22.5, 0.40), (23.3, 0.50), (24.0, 0.35),
         (25.0, 0.40), (26.0, 0.30), (27.0, 0.35), (28.0, 0.50), (28.5, 0.82), (28.9, 0.40),
         (29.5, 0.35), (30.5, 0.20), (32.0, 0.10), (35.0, 0.08), (40.0, 0.05), (45.0, 0.04),
         (50.0, 0.02), (60.0, 0.01), (80.0, 0.01), (100.0, 0.005)]
spec7 = [(1.0, 0.11), (1.5, 0.11), (1.8, 0.13), (2.5, 0.14), (2.8, 0.17), (3.0, 0.14),
         (3.6, 0.16), (4.0, 0.13), (4.5, 0.13), (4.9, 0.17), (5.2, 0.17), (5.41, 0.29),
         (5.9, 0.18), (6.3, 0.27), (6.8, 0.20), (7.2, 0.60), (7.6, 0.72), (7.9, 1.00),
         (8.25, 1.19), (8.5, 1.05), (8.77, 0.92), (9.2, 1.02), (9.52, 1.16), (9.9, 0.88),
         (10.3, 0.95), (10.6, 0.99), (10.8, 0.80), (11.3, 0.70), (11.7, 0.55), (12.0, 0.64),
         (12.5, 0.40), (13.2, 0.33), (13.5, 0.48), (14.2, 0.35), (15.0, 0.40), (15.5, 0.37),
         (16.0, 0.40), (16.8, 0.30), (17.5, 0.33), (18.3, 0.25), (19.0, 0.28), (19.6, 0.22),
         (20.5, 0.18), (21.5, 0.20), (22.5, 0.16), (23.5, 0.18), (24.5, 0.12), (25.5, 0.18),
         (26.5, 0.15), (28.0, 0.20), (28.7, 0.33), (29.1, 0.18), (29.8, 0.15), (30.5, 0.06),
         (33.0, 0.05), (36.0, 0.04), (40.0, 0.03), (45.0, 0.03), (50.0, 0.03), (55.0, 0.02),
         (58.0, 0.05), (62.0, 0.02), (68.0, 0.04), (75.0, 0.02), (85.0, 0.01), (95.0, 0.01),
         (110.0, 0.0)]
spectra = [spec1, spec2, spec3, spec4, spec5, spec6, spec7]

freq_major = [1, 5, 10, 50, 100]
freq_minor = [2, 3, 4, 6, 7, 8, 9, 20, 30, 40, 60, 70, 80, 90, 200, 300]

# ---------------------------------------------------------------------------
# Layout geometry (pixels)
# ---------------------------------------------------------------------------
W, H = 1259, 1493
LEFT_X = (90, 617)
RIGHT_X = (713, 1242)
ROW_TOP, ROW_H, ROW_PITCH = 43, 138, 208
F_MAX = 313.0

FONT = "Liberation Sans, Arial, Helvetica, sans-serif"
BLUE = "#0000ff"
GRID = "#c8c8c8"
RED = "#ff0000"


def px_x(x):
    return x / W


def px_y(y):
    return 1 - y / H


def fmt(v):
    return f"{v:g}"


axis_common = dict(
    showline=True, linecolor="black", linewidth=2, mirror=True,
    ticks="outside", ticklen=5, tickwidth=1.5, tickcolor="black",
    tickfont=dict(family=FONT, size=20, color=BLUE),
    showgrid=True, gridcolor=GRID, gridwidth=1.5,
    zeroline=False, fixedrange=True, automargin=False,
)
minor_common = dict(ticks="outside", ticklen=4, tickwidth=1.5, tickcolor="black")

fig = go.Figure()
layout = dict(
    width=W, height=H, autosize=False,
    margin=dict(l=0, r=0, t=0, b=0, pad=0, autoexpand=False),
    paper_bgcolor="white", plot_bgcolor="white", showlegend=False,
    font=dict(family=FONT, color="black"),
)
annotations = []

for i in range(7):
    top = ROW_TOP + ROW_PITCH * i
    ydom = [px_y(top + ROW_H), px_y(top)]
    nl, nr = 2 * i + 1, 2 * i + 2
    sl = "" if nl == 1 else str(nl)
    sr = str(nr)

    # --- time-domain axes ---
    lim = time_ylim[i]
    yt = [round(k * lim / 2, 6) for k in range(-2, 3)]
    ym = [round((k + 0.5) * lim / 2, 6) for k in range(-2, 2)]
    layout["xaxis" + sl] = dict(
        axis_common, domain=[px_x(LEFT_X[0]), px_x(LEFT_X[1])], anchor="y" + sl,
        range=[10, 55], tickmode="array", tickvals=[10, 20, 30, 40, 50],
        ticktext=["10", "20", "30", "40", "50"], ticklabelstandoff=-7,
        minor=dict(minor_common, tickmode="array",
                   tickvals=[s for s in range(11, 55) if s % 10], showgrid=False),
    )
    layout["yaxis" + sl] = dict(
        axis_common, domain=ydom, anchor="x" + sl, range=[-lim, lim],
        tickmode="array", tickvals=yt, ticktext=[fmt(v) for v in yt], ticklabelstandoff=-2,
        minor=dict(minor_common, tickmode="array", tickvals=ym, showgrid=False),
    )

    # --- spectrum axes ---
    slim = spec_ylim[i]
    nstep = 5 if slim == 0.001 else 4
    ys = [round(k * slim / nstep, 7) for k in range(nstep + 1)]
    layout["xaxis" + sr] = dict(
        axis_common, domain=[px_x(RIGHT_X[0]), px_x(RIGHT_X[1])], anchor="y" + sr,
        type="log", range=[0, np.log10(F_MAX)], tickmode="array", tickvals=freq_major,
        ticktext=[str(f) for f in freq_major], ticklabelstandoff=-7,
        minor=dict(minor_common, ticklen=5, tickmode="array", tickvals=freq_minor,
                   showgrid=True, gridcolor=GRID, gridwidth=1.5),
    )
    layout["yaxis" + sr] = dict(
        axis_common, domain=ydom, anchor="x" + sr, range=[0, slim],
        tickmode="array", tickvals=ys, ticktext=[fmt(v) for v in ys], ticklabelstandoff=-2,
    )

    xl, yl = "x" + sl, "y" + sl
    xr, yr = "x" + sr, "y" + sr

    # peak stem (beneath the record; visible in red where it leaves the trace)
    stem_color = RED if i == 3 else "black"
    fig.add_trace(go.Scatter(x=[t_vmax[i], t_vmax[i]], y=[0, v_vmax[i]], mode="lines",
                             line=dict(color=stem_color, width=1.5), xaxis=xl, yaxis=yl,
                             hoverinfo="skip"))

    # dense centre band of the velocity record
    core = np.array(sig_core[i]) * 1e-3
    t_core = 10 + 2.5 * np.arange(len(core))
    fig.add_trace(go.Scatter(x=t_core, y=core, mode="lines", line=dict(width=0, color="black"),
                             xaxis=xl, yaxis=yl, hoverinfo="skip"))
    fig.add_trace(go.Scatter(x=t_core, y=-core, mode="lines", line=dict(width=0, color="black"),
                             fill="tonexty", fillcolor="black", xaxis=xl, yaxis=yl,
                             hoverinfo="skip"))

    # oscillation: alternating positive / negative peaks
    hi = np.array(sig_hi[i]) * 1e-3
    lo = np.array(sig_lo[i]) * 1e-3
    t_hi = 10 + 0.25 * np.arange(len(hi))
    t_lo = 10.125 + 0.25 * np.arange(len(lo))
    t_all = np.concatenate([t_hi, t_lo])
    v_all = np.concatenate([hi, lo])
    order = np.argsort(t_all, kind="stable")
    fig.add_trace(go.Scatter(x=t_all[order], y=v_all[order], mode="lines",
                             line=dict(color="black", width=1), xaxis=xl, yaxis=yl,
                             hoverinfo="skip"))

    # v_max marker
    fig.add_trace(go.Scatter(x=[t_vmax[i]], y=[v_vmax[i]], mode="markers",
                             marker=dict(symbol="square", size=12, color=RED),
                             xaxis=xl, yaxis=yl, cliponaxis=False))

    # spectrum
    f_vals = [p[0] for p in spectra[i]]
    a_vals = [p[1] * 1e-3 for p in spectra[i]]
    fig.add_trace(go.Scatter(x=f_vals, y=a_vals, mode="lines",
                             line=dict(color="black", width=1.2), xaxis=xr, yaxis=yr,
                             hoverinfo="skip"))
    fig.add_trace(go.Scatter(x=[peak_freq[i]], y=[peak_amp[i] * 1e-3], mode="markers",
                             marker=dict(symbol="square", size=12, color=RED),
                             xaxis=xr, yaxis=yr, cliponaxis=False))
    annotations.append(dict(
        x=np.log10(peak_freq[i]), y=peak_amp[i] * 1e-3, xref=xr, yref=yr,
        text=fmt(peak_freq[i]), showarrow=False, textangle=-45,
        xshift=-9, yshift=11, font=dict(family=FONT, size=19, color=BLUE),
    ))

    # panel title
    annotations.append(dict(
        x=px_x(LEFT_X[0]), y=px_y(top - 24), xref="paper", yref="paper",
        xanchor="left", yanchor="middle", showarrow=False,
        text=(f"Kanal {i + 1}: <b>{channel_names[i]}</b> v<sub>max</sub>"
              f"(t={t_vmax[i]:.2f} s)=<b>{v_vmax[i]:.4f} mm/s</b>"),
        font=dict(family=FONT, size=21, color="black"),
    ))

# axis titles
annotations.append(dict(
    x=px_x(19), y=px_y(858), xref="paper", yref="paper", xanchor="center", yanchor="middle",
    text="Schwinggeschwindigkeit in mm/s", textangle=-90, showarrow=False,
    font=dict(family=FONT, size=27, color=BLUE),
))
annotations.append(dict(
    x=px_x(LEFT_X[1]), y=px_y(1478), xref="paper", yref="paper", xanchor="right",
    yanchor="middle", text="Zeit in s", showarrow=False,
    font=dict(family=FONT, size=27, color=BLUE),
))
annotations.append(dict(
    x=px_x(RIGHT_X[1]), y=px_y(1478), xref="paper", yref="paper", xanchor="right",
    yanchor="middle", text="Frequenz in Hz", showarrow=False,
    font=dict(family=FONT, size=27, color=BLUE),
))

layout["annotations"] = annotations
fig.update_layout(**layout)
fig.write_html(
    "out.html",
    config={"displayModeBar": False},
    post_script="document.body.style.margin='0';document.body.style.overflow='hidden';",
)
